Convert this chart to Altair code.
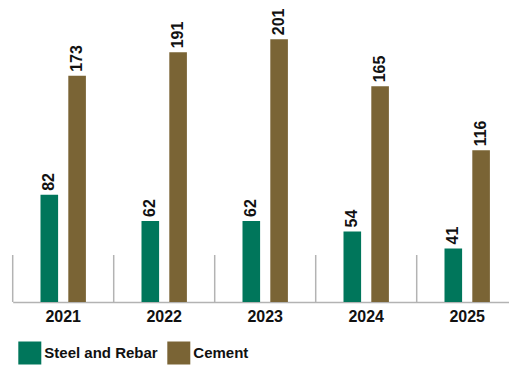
import altair as alt
import pandas as pd

years = ["2021", "2022", "2023", "2024", "2025"]
steel = [82, 62, 62, 54, 41]
cement = [173, 191, 201, 165, 116]
series = ["Steel and Rebar", "Cement"]
colors = ["#00765B", "#7A6435"]

rows = []
for y, s, c in zip(years, steel, cement):
    rows.append({"year": y, "series": series[0], "value": s})
    rows.append({"year": y, "series": series[1], "value": c})
df = pd.DataFrame(rows)
sep_df = pd.DataFrame({"year": years})

FONT = "Liberation Sans"

x_enc = alt.X("year:N", sort=years, title=None,
              scale=alt.Scale(paddingInner=0, paddingOuter=0, range=[0, 505]),
              axis=alt.Axis(labelAngle=0, labelAlign="center", labelFont=FONT, labelFontSize=16,
                            labelFontWeight="bold", labelColor="#111111",
                            labelPadding=14, ticks=False, tickSize=0, bandPosition=0.5,
                            domainColor="#b3b3b3", domainWidth=1.5, grid=False))
xoff = alt.XOffset("series:N", sort=series,
                   scale=alt.Scale(paddingInner=0.367, paddingOuter=1))
y_enc = alt.Y("value:Q", title=None, axis=None,
              scale=alt.Scale(domain=[0, 231], nice=False))
color_enc = alt.Color("series:N", sort=series,
                      scale=alt.Scale(domain=series, range=colors),
                      legend=alt.Legend(title=None, orient="none", legendX=5.6, legendY=341.5,
                                        direction="horizontal", symbolType="square",
                                        symbolSize=529, symbolStrokeWidth=0,
                                        labelFont=FONT, labelFontSize=15,
                                        labelFontWeight="bold", labelColor="#111111",
                                        labelOffset=3, columnPadding=9, padding=0))

bars = alt.Chart(df).mark_bar().encode(x=x_enc, xOffset=xoff, y=y_enc, color=color_enc)

labels = alt.Chart(df).mark_text(angle=270, align="left", baseline="middle", dx=4,
                                 font=FONT, fontSize=16, fontWeight="bold",
                                 color="#111111").encode(
    x=alt.X("year:N", sort=years), xOffset=xoff, y=y_enc, text="value:Q")

seps = alt.Chart(sep_df).mark_rule(color="#b3b3b3", strokeWidth=1.5).encode(
    x=alt.X("year:N", sort=years, bandPosition=0),
    y=alt.value(255), y2=alt.value(302))

chart = alt.layer(seps, bars, labels).properties(
    width=496.3, height=302,
    autosize=alt.AutoSizeParams(type="none"),
    padding={"left": 12.7, "top": 0, "right": 0, "bottom": 65},
).configure_view(stroke=None)

chart.save("out.html", embed_options={"renderer": "svg", "actions": False})
